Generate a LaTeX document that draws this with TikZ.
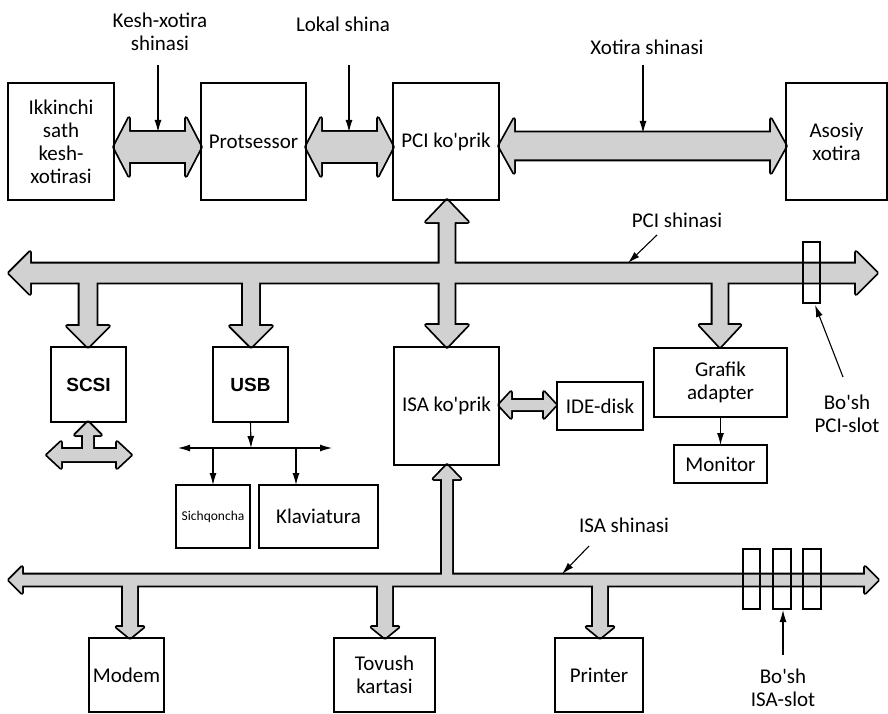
\documentclass[tikz,border=0pt]{standalone}
\usepackage{fontspec}
\setmainfont{Carlito}[Ligatures=TeXOff]
\newfontfamily\lsansfam{Liberation Sans}
\usetikzlibrary{arrows.meta}
\definecolor{busgray}{gray}{0.82}

% horizontal double arrow: x1,x2,y,shaft half,head half,head length
\newcommand\busHD[6]{(#1,#3) -- ({#1+#6},{#3-#5}) -- ({#1+#6},{#3-#4}) -- ({#2-#6},{#3-#4}) -- ({#2-#6},{#3-#5}) -- (#2,#3) -- ({#2-#6},{#3+#5}) -- ({#2-#6},{#3+#4}) -- ({#1+#6},{#3+#4}) -- ({#1+#6},{#3+#5}) -- cycle}
% vertical arrow, head down at y2: x,y1,y2,s,h,L
\newcommand\busVD[6]{({#1-#4},#2) -- ({#1+#4},#2) -- ({#1+#4},{#3-#6}) -- ({#1+#5},{#3-#6}) -- (#1,#3) -- ({#1-#5},{#3-#6}) -- ({#1-#4},{#3-#6}) -- cycle}
% vertical arrow, head up at ytip: x,ybottom,ytip,s,h,L
\newcommand\busVU[6]{({#1-#4},#2) -- ({#1+#4},#2) -- ({#1+#4},{#3+#6}) -- ({#1+#5},{#3+#6}) -- (#1,#3) -- ({#1-#5},{#3+#6}) -- ({#1-#4},{#3+#6}) -- cycle}
% vertical double arrow: x,y1,y2,s,h,L
\newcommand\busVDD[6]{(#1,#2) -- ({#1+#5},{#2+#6}) -- ({#1+#4},{#2+#6}) -- ({#1+#4},{#3-#6}) -- ({#1+#5},{#3-#6}) -- (#1,#3) -- ({#1-#5},{#3-#6}) -- ({#1-#4},{#3-#6}) -- ({#1-#4},{#2+#6}) -- ({#1-#5},{#2+#6}) -- cycle}

\newcommand\allbuses[1]{%
\path[#1] \busHD{114}{201}{147}{15}{29}{15};
\path[#1] \busHD{306}{393}{147}{15}{29}{15};
\path[#1] \busHD{499}{786}{146}{13.5}{27}{15};
\path[#1] \busHD{9}{877}{273}{9.5}{21}{21};
\path[#1] \busVDD{447}{200}{347}{7.5}{21}{22};
\path[#1] \busVD{88}{273}{347}{8.5}{21}{21};
\path[#1] \busVD{251}{273}{347}{8}{21}{21};
\path[#1] \busVD{720}{273}{347}{7.5}{20.5}{22};
\path[#1] \busHD{47}{131}{455}{6}{13}{14};
\path[#1] \busVU{88}{455}{422}{5}{13}{13};
\path[#1] \busHD{499}{556}{405}{5}{13}{12};
\path[#1] \busHD{9}{878}{580}{5.5}{13}{13};
\path[#1] \busVU{447}{580}{465}{5}{13.5}{14};
\path[#1] \busVD{130}{580}{638}{7}{13.5}{11};
\path[#1] \busVD{385}{580}{638}{7}{13.5}{11};
\path[#1] \busVD{600}{580}{638}{7}{13.5}{11};
}

\newcommand\bx[6][]{\node[box,#1,minimum width={(#5-#3)*1pt},minimum height={(#6-#4)*1pt}] (#2) at ({(#3+#5)/2},{(#4+#6)/2})}

\begin{document}
\begin{tikzpicture}[x=1pt,y=-1pt,
  box/.style={draw, line width=1.1pt, inner sep=0pt, outer sep=0pt, align=center, font=\fontsize{21}{23}\selectfont},
  lbl/.style={inner sep=0pt, align=center, font=\fontsize{21}{23}\selectfont},
  ptr/.style={line width=1.1pt, -{Latex[length=12pt,width=7pt]}},
  busout/.style={draw=black, line width=3.6pt, fill=busgray, line join=round},
  busin/.style={fill=busgray},
  slotbox/.style={draw, line width=1.1pt}]
\useasboundingbox (0,0) rectangle (888,714);

% buses
\allbuses{busout}
\allbuses{busin}

% boxes
\bx{ikk}{8}{83}{114}{200}{Ikkinchi\\sath\\kesh-\\xotirasi};
\bx{prot}{201}{83}{306}{200}{Protsessor};
\bx{pcik}{393}{83}{499}{200}{PCI ko'prik};
\bx{asos}{786}{83}{887}{200}{Asosiy\\xotira};
\bx[font=\lsansfam\bfseries\fontsize{19}{21}\selectfont]{scsi}{51}{347}{126}{422}{SCSI};
\bx[font=\lsansfam\bfseries\fontsize{19}{21}\selectfont]{usb}{213}{347}{288}{422}{USB};
\bx{isak}{394}{347}{499}{465}{ISA ko'prik};
\bx{ide}{557}{382}{643}{430}{IDE-disk};
\bx{graf}{654}{348}{787}{417}{Grafik\\adapter};
\bx{mon}{674}{445}{767}{483}{Monitor};
\bx[font=\fontsize{13.5}{15}\selectfont]{sich}{176}{485}{250}{548}{Sichqoncha};
\bx{klav}{259}{485}{378}{548}{Klaviatura};
\bx{modem}{89}{638}{164}{712}{Modem};
\bx{tov}{334}{638}{435}{712}{Tovush\\kartasi};
\bx{prn}{555}{638}{643}{712}{Printer};

% slots
\draw[slotbox] (803,242) rectangle (820,303);
\draw[slotbox] (743,549) rectangle (760,609);
\draw[slotbox] (773,549) rectangle (791,609);
\draw[slotbox] (803,549) rectangle (821,609);

% labels
\node[lbl] (kxl) at (160,32) {Kesh-xotira\\shinasi};
\node[lbl] (lsl) at (343,24) {Lokal shina};
\node[lbl] (xsl) at (647,47) {Xotira shinasi};
\node[lbl] (psl) at (677,220) {PCI shinasi};
\node[lbl] (bpl) at (847,414) {Bo'sh\\PCI-slot};
\node[lbl] (isl) at (624,525) {ISA shinasi};
\node[lbl] (bil) at (783,688) {Bo'sh\\ISA-slot};

% pointer arrows
\coordinate (kxa) at (158,65);  \coordinate (kxb) at (158,132);
\coordinate (lsa) at (349,65);  \coordinate (lsb) at (349,132);
\coordinate (xsa) at (643,65);  \coordinate (xsb) at (643,133);
\coordinate (psa) at (657,235); \coordinate (psb) at (628,263);
\coordinate (bpa) at (843,377); \coordinate (bpb) at (815,305);
\coordinate (isa) at (589,546); \coordinate (isb) at (562,574);
\coordinate (bia) at (783,655); \coordinate (bib) at (783,610);
\draw[ptr] (kxa) -- (kxb);
\draw[ptr] (lsa) -- (lsb);
\draw[ptr] (xsa) -- (xsb);
\draw[ptr] (psa) -- (psb);
\draw[ptr] (bpa) -- (bpb);
\draw[ptr] (isa) -- (isb);
\draw[ptr] (bia) -- (bib);

% USB connections
\coordinate (usbj) at (251,448);
\coordinate (usbl) at (178,448);
\coordinate (usbr) at (332,448);
\coordinate (sichj) at (213,448);
\coordinate (klavj) at (296,448);
\coordinate (klavt) at (296,485);
\draw[ptr] (usb.south) -- (usbj);
\draw[ptr, {Latex[length=12pt,width=7pt]}-{Latex[length=12pt,width=7pt]}] (usbl) -- (usbr);
\draw[ptr] (sichj) -- (sich.north);
\draw[ptr] (klavj) -- (klavt);

% monitor
\draw[ptr] (graf.south) -- (mon.north);
\end{tikzpicture}
\end{document}
